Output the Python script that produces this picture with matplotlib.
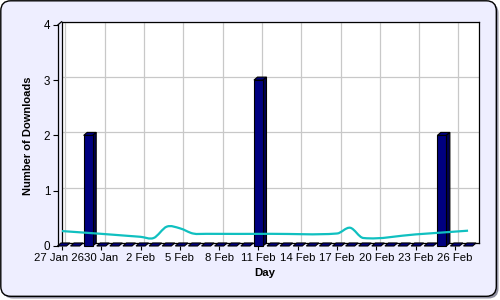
import numpy as np
import pandas as pd
import matplotlib
matplotlib.use("Agg")
import matplotlib.pyplot as plt
import matplotlib.transforms as mtransforms
from matplotlib.patches import Polygon, FancyBboxPatch, PathPatch
from matplotlib.path import Path

plt.rcParams['font.family'] = ['Liberation Sans', 'DejaVu Sans']

# ---------------- data ----------------
dates = pd.date_range("2026-01-27", "2026-02-27", freq="D")
downloads = [0, 0, 2, 0, 0, 0, 0, 0, 0, 0, 0, 0, 0, 0, 0, 3,
             0, 0, 0, 0, 0, 0, 0, 0, 0, 0, 0, 0, 0, 2, 0, 0]

trend_dates = pd.to_datetime(["2026-01-27", "2026-01-30", "2026-02-01", "2026-02-02",
                              "2026-02-03", "2026-02-04", "2026-02-05", "2026-02-06",
                              "2026-02-07", "2026-02-12", "2026-02-17", "2026-02-18",
                              "2026-02-19", "2026-02-23", "2026-02-27"])
trend_values = [0.27, 0.22, 0.184, 0.166, 0.145, 0.35, 0.32, 0.226,
                0.22, 0.22, 0.226, 0.33, 0.145, 0.21, 0.277]

tick_dates = pd.to_datetime(["2026-01-27", "2026-01-30", "2026-02-02", "2026-02-05",
                             "2026-02-08", "2026-02-11", "2026-02-14", "2026-02-17",
                             "2026-02-20", "2026-02-23", "2026-02-26"])
tick_labels = ["27 Jan 26", "30 Jan", "2 Feb", "5 Feb", "8 Feb", "11 Feb",
               "14 Feb", "17 Feb", "20 Feb", "23 Feb", "26 Feb"]
y_ticks = [0, 1, 2, 3, 4]

# ---------------- layout (pixels) ----------------
W, H, DPI = 500, 300, 100
L, R, T, B = 58, 475, 24.8, 246
DX, DY = 3.5, 3.0
BAR_W = 0.69

fig = plt.figure(figsize=(W / DPI, H / DPI), dpi=DPI)
fig.patch.set_facecolor("white")
px = mtransforms.Affine2D().scale(1 / W, -1 / H).translate(0, 1) + fig.transFigure

# outer rounded frame with shadow
shadow = FancyBboxPatch((3.0, 3.0), 495.5, 295.5, boxstyle="round,pad=0,rounding_size=10",
                        transform=px, facecolor="#9090a0", edgecolor="none", zorder=0)
frame = FancyBboxPatch((0.8, 0.8), 495.5, 295.5, boxstyle="round,pad=0,rounding_size=10",
                       transform=px, facecolor="#eeeeff", edgecolor="black", lw=1.0, zorder=1)
fig.patches.extend([shadow, frame])

x0 = dates[0]
xs = np.array([(d - x0).days for d in dates])
txs = np.array([(d - x0).days for d in trend_dates])
tkx = [(d - x0).days for d in tick_dates]
xlim = (-0.305, 31.53)
ylim = (0, 4)

# back plane
axb = fig.add_axes([(L + DX) / W, 1 - (B - DY) / H, (R - L) / W, (B - T) / H], zorder=2)
axb.set_xlim(xlim); axb.set_ylim(ylim)
axb.set_facecolor("white")
axb.set_xticks(tkx); axb.set_yticks(y_ticks)
axb.tick_params(length=0, labelbottom=False, labelleft=False)
axb.grid(True, color="#c8c8c8", lw=0.9)
for s in axb.spines.values():
    s.set_color("black"); s.set_linewidth(0.9)

# front plane
ax = fig.add_axes([L / W, 1 - B / H, (R - L) / W, (B - T) / H], zorder=3)
ax.set_xlim(xlim); ax.set_ylim(ylim)
ax.patch.set_visible(False)
for k in ["top", "right", "bottom"]:
    ax.spines[k].set_visible(False)
ax.spines["left"].set_color("black"); ax.spines["left"].set_linewidth(0.9)
ax.set_xticks(tkx)
ax.set_xticklabels(tick_labels)
ax.set_yticks(y_ticks)
ax.tick_params(axis="x", direction="out", length=3.2, width=0.8, pad=2, labelsize=8.2)
ax.tick_params(axis="y", direction="out", length=3.6, width=0.8, pad=2, labelsize=8.4)
first = ax.get_xticklabels()[0]
first.set_transform(first.get_transform() +
                    mtransforms.ScaledTranslation(-2.5 / DPI, 0, fig.dpi_scale_trans))

ppd = (R - L) / (xlim[1] - xlim[0])
ppv = (B - T) / (ylim[1] - ylim[0])
ddx, ddy = DX / ppd, DY / ppv

# wall corner line
ax.plot([xlim[0], xlim[0] + ddx], [ylim[1], ylim[1] + ddy], color="black", lw=0.9, clip_on=False)

# 3D bars
for x, v in zip(xs, downloads):
    a, b = x - BAR_W / 2, x + BAR_W / 2
    top = Polygon([(a, v), (b, v), (b + ddx, v + ddy), (a + ddx, v + ddy)],
                  closed=True, facecolor="#000080", edgecolor="black", lw=0.8, clip_on=False, zorder=3)
    ax.add_patch(top)
    if v > 0:
        side = Polygon([(b, 0), (b + ddx, ddy), (b + ddx, v + ddy), (b, v)],
                       closed=True, facecolor="#000050", edgecolor="black", lw=0.8, clip_on=False, zorder=3)
        front = Polygon([(a, 0), (b, 0), (b, v), (a, v)],
                        closed=True, facecolor="#000080", edgecolor="black", lw=0.8, clip_on=False, zorder=4)
        ax.add_patch(side); ax.add_patch(front)

# smooth trend line (cubic Hermite drawn as Bezier path)
n = len(txs)
tv = np.array(trend_values, dtype=float)
m = np.zeros(n)
m[0] = (tv[1] - tv[0]) / (txs[1] - txs[0])
m[-1] = (tv[-1] - tv[-2]) / (txs[-1] - txs[-2])
for i in range(1, n - 1):
    m[i] = (tv[i + 1] - tv[i - 1]) / (txs[i + 1] - txs[i - 1])
verts = [(txs[0], tv[0])]
codes = [Path.MOVETO]
for i in range(n - 1):
    h = txs[i + 1] - txs[i]
    verts += [(txs[i] + h / 3, tv[i] + m[i] * h / 3),
              (txs[i + 1] - h / 3, tv[i + 1] - m[i + 1] * h / 3),
              (txs[i + 1], tv[i + 1])]
    codes += [Path.CURVE4] * 3
ax.add_patch(PathPatch(Path(verts, codes), facecolor="none", edgecolor="#10c0c0",
                       lw=1.6, zorder=6, clip_on=False))

# axis titles
fig.text(265 / W, 1 - 273.5 / H, "Day", ha="center", va="center", fontsize=8.2, fontweight="bold")
fig.text(28 / W, 1 - 136 / H, "Number of Downloads", ha="center", va="center",
         rotation=90, fontsize=8.0, fontweight="bold")

fig.savefig("out.png", dpi=DPI)
